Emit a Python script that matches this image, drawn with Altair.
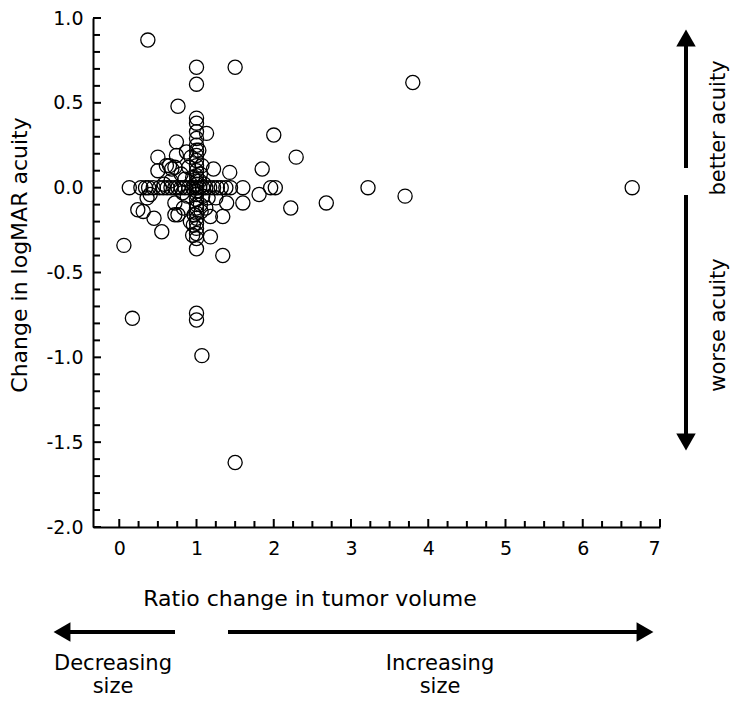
import altair as alt
import pandas as pd

FONT = "DejaVu Sans"

# --- data ---
row0_x = [0.13, 0.28, 0.34, 0.38, 0.44, 0.52, 0.57, 0.62, 0.67, 0.72, 0.76, 0.80, 0.85,
          0.90, 0.95, 1.0, 1.0, 1.04, 1.08, 1.12, 1.17, 1.22, 1.27, 1.32, 1.38, 1.44,
          1.6, 1.96, 2.02, 3.22, 6.64]
col1_y = [0.71, 0.61, 0.41, 0.38, 0.33, 0.29, 0.25, 0.22, 0.19, 0.16, 0.13, 0.10, 0.07,
          0.04, 0.02, -0.02, -0.04, -0.07, -0.10, -0.12, -0.15, -0.18, -0.21, -0.24,
          -0.27, -0.30, -0.36, -0.74, -0.78]
other_x = [0.06, 0.17, 0.37, 1.5, 0.76, 1.13, 2.0, 3.8, 2.29, 1.85, 1.81, 2.22, 2.68, 3.7,
           1.07, 1.5, 1.34, 0.24, 0.31, 0.45, 0.55, 1.18, 1.34, 1.39, 1.6, 1.22, 1.43,
           0.5, 0.61, 0.72, 0.40, 0.36, 0.72, 0.76, 0.72, 0.83, 0.92, 0.95, 0.96, 1.18,
           1.15, 1.25, 0.74, 0.74, 0.87, 0.65, 0.68, 0.5, 0.80, 0.85, 0.90, 0.93, 0.95,
           1.05, 1.07, 1.05, 1.08, 1.03, 1.04, 1.06, 1.1, 0.88, 0.82, 1.12, 0.97, 0.67, 0.58]
other_y = [-0.34, -0.77, 0.87, 0.71, 0.48, 0.32, 0.31, 0.62, 0.18, 0.11, -0.04, -0.12, -0.09,
           -0.05, -0.99, -1.62, -0.40, -0.13, -0.14, -0.18, -0.26, -0.29, -0.17, -0.09,
           -0.09, 0.11, 0.09, 0.18, 0.13, 0.12, -0.04, -0.06, -0.09, -0.16, -0.16, -0.12,
           -0.20, -0.28, -0.22, -0.17, -0.06, -0.06, 0.27, 0.19, 0.21, 0.13, 0.11, 0.10,
           0.08, 0.05, 0.12, 0.18, 0.06, 0.08, 0.13, -0.10, -0.05, 0.22, 0.04, -0.14, 0.02,
           -0.05, -0.03, -0.12, -0.16, 0.04, 0.02]

x_vals = row0_x + [1.0] * len(col1_y) + other_x
y_vals = [0.0] * len(row0_x) + col1_y + other_y
points = pd.DataFrame({"ratio": x_vals, "dlogmar": y_vals})

x_major = [0, 1, 2, 3, 4, 5, 6, 7]
x_minor = [i * 0.25 for i in range(29) if i % 4 != 0]
y_major = [-2.0, -1.5, -1.0, -0.5, 0.0, 0.5, 1.0]
y_minor = [round(-2.0 + i * 0.1, 1) for i in range(31) if i % 5 != 0]

W, H = 567, 509
XDOM = [-0.34, 7]
YDOM = [-2, 1]
xs = alt.Scale(domain=XDOM, nice=False, zero=False)
ys = alt.Scale(domain=YDOM, nice=False, zero=False)

x_axis = alt.Axis(
    values=x_major, ticks=False, domain=True, domainColor="black", domainWidth=2,
    grid=False, labelFont=FONT, labelFontSize=19, labelColor="black",
    labelPadding=12, title=None, format="d")
y_axis = alt.Axis(
    values=y_major, ticks=False, domain=True, domainColor="black", domainWidth=2,
    grid=False, labelFont=FONT, labelFontSize=19, labelColor="black",
    labelPadding=10, title=None,
    labelExpr="replace(format(datum.value, '.1f'), '\u2212', '-')")

pts = alt.Chart(points).mark_point(
    shape="circle", filled=False, color="black", strokeWidth=1.3, size=200, opacity=1
).encode(
    x=alt.X("ratio:Q", scale=xs, axis=x_axis, title=None),
    y=alt.Y("dlogmar:Q", scale=ys, axis=y_axis, title=None),
)

def xticks(vals, length):
    return alt.Chart(pd.DataFrame({"ratio": vals})).mark_rule(color="black", strokeWidth=2).encode(
        x=alt.X("ratio:Q", scale=xs, axis=x_axis, title=None),
        y=alt.value(H), y2=alt.value(H - length))

def yticks(vals, length):
    return alt.Chart(pd.DataFrame({"dlogmar": vals})).mark_rule(color="black", strokeWidth=2).encode(
        y=alt.Y("dlogmar:Q", scale=ys, axis=y_axis, title=None),
        x=alt.value(0), x2=alt.value(length))

def text(label, x, y, angle=0, size=21, baseline="alphabetic"):
    kw = dict(font=FONT, fontSize=size, color="black", align="center", baseline=baseline)
    if angle:
        kw["angle"] = angle
    return alt.Chart(pd.DataFrame({"t": [label]})).mark_text(**kw).encode(
        text="t:N", x=alt.value(x), y=alt.value(y))

def hline(x1, x2, y):
    return alt.Chart(pd.DataFrame({"t": [""]})).mark_rule(color="black", strokeWidth=4).encode(
        x=alt.value(x1), x2=alt.value(x2), y=alt.value(y))

def vline(x, y1, y2):
    return alt.Chart(pd.DataFrame({"t": [""]})).mark_rule(color="black", strokeWidth=4).encode(
        x=alt.value(x), y=alt.value(y1), y2=alt.value(y2))

def head(shape, x, y):
    return alt.Chart(pd.DataFrame({"t": [""]})).mark_point(
        shape=shape, filled=True, color="black", size=380, opacity=1).encode(
        x=alt.value(x), y=alt.value(y))

layers = [
    pts,
    xticks(x_major, 8), xticks(x_minor, 6), yticks(y_major, 8), yticks(y_minor, 7),
    text("Change in logMAR acuity", -66, 237, 270, size=22),
    text("Ratio change in tumor volume", 217, 588, size=22),
    hline(-30, 82, 614), head("triangle-left", -31, 614),
    hline(135, 552, 614), head("triangle-right", 552, 614),
    text("Decreasing", 20, 652), text("size", 20, 675),
    text("Increasing", 347, 652), text("size", 347, 675),
    vline(593, 27, 150), head("triangle-up", 593, 20),
    vline(593, 177, 425), head("triangle-down", 593, 424),
    text("better acuity", 632, 110, 270),
    text("worse acuity", 632, 307, 270),
]

chart = alt.layer(*layers).properties(
    width=W, height=H,
    background="white",
    autosize=alt.AutoSizeParams(type="none"),
    padding={"left": 85, "top": 10, "right": 70, "bottom": 172},
).configure_view(stroke=None)

chart.save("out.html", embed_options={"renderer": "svg", "actions": False})
